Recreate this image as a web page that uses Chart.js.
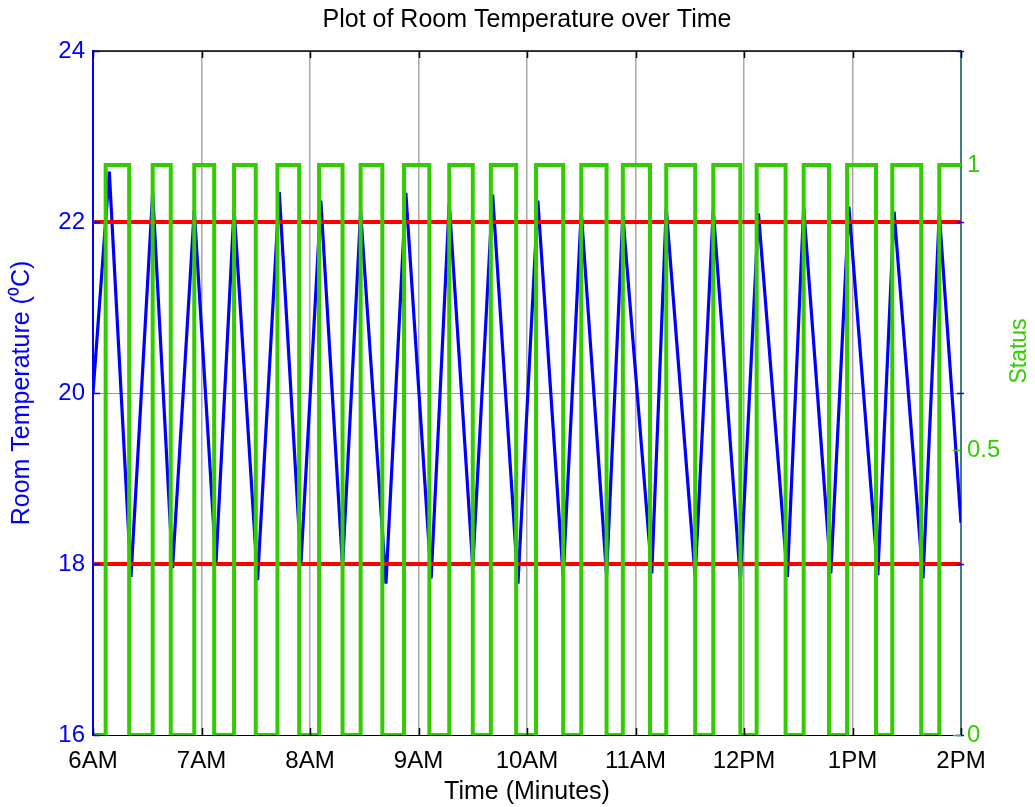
<!DOCTYPE html>
<html>
<head>
<meta charset="utf-8">
<title>Room Temperature</title>
<script src="https://cdn.jsdelivr.net/npm/chart.js@4.4.1/dist/chart.umd.min.js"></script>
<style>
  html, body { margin: 0; padding: 0; background: #fff; }
</style>
</head>
<body>
<canvas id="tempChart" width="1035" height="807"></canvas>
<script>
const hourLabels = ['6AM', '7AM', '8AM', '9AM', '10AM', '11AM', '12PM', '1PM', '2PM'];
const hourTicks = [0, 60, 120, 180, 240, 300, 360, 420, 480];
const tempTicks = [16, 18, 20, 22, 24];
const statusTicks = [0, 0.5, 1];
const setpoints = [18, 22];

// turning points of the room temperature (minutes after 6AM)
const tempMinutes = [0, 9, 21, 33, 44, 56, 68, 78, 91, 103, 115, 126, 138, 148, 162, 173, 187, 197, 210, 221,
    235, 246, 260, 270, 284, 293, 309, 317, 333, 343, 358, 368, 384, 393, 408, 418, 434, 443, 459, 468, 480];
const tempValues = [20.0, 22.59, 17.85, 22.34, 17.95, 22.14, 18.0, 22.16, 17.81, 22.35, 18.01, 22.25, 17.97, 22.12,
    17.77, 22.34, 17.83, 22.22, 17.97, 22.32, 17.77, 22.25, 17.85, 22.12, 17.87, 22.08, 17.89, 22.16, 17.85, 22.14,
    17.81, 22.10, 17.85, 22.16, 17.89, 22.18, 17.87, 22.12, 17.83, 22.10, 18.48];

// switching times of the status signal
const statusMinutes = [0, 7, 20, 33, 43, 56, 67, 78, 90, 102, 114, 125, 138, 148, 160, 172, 186, 197, 210, 220,
    234, 245, 260, 270, 284, 293, 308, 317, 333, 343, 358, 367, 383, 393, 407, 417, 433, 442, 458, 468, 480];
const statusValues = [0, 1, 0, 1, 0, 1, 0, 1, 0, 1, 0, 1, 0, 1, 0, 1, 0, 1, 0, 1, 0,
    1, 0, 1, 0, 1, 0, 1, 0, 1, 0, 1, 0, 1, 0, 1, 0, 1, 0, 1, 1];

const BLUE = '#0000ff';
const GREEN = '#33cc00';

Chart.defaults.font.family = "'Liberation Sans', Arial, sans-serif";

// inward tick marks, top frame line and the right axis label
const framePlugin = {
    id: 'frame',
    afterDatasetsDraw(chart) {
        const ctx = chart.ctx;
        const area = chart.chartArea;
        const x = chart.scales.x, y = chart.scales.y, y1 = chart.scales.y1;
        ctx.save();
        ctx.lineWidth = 1.5;

        ctx.strokeStyle = '#000';
        ctx.beginPath();
        ctx.moveTo(area.left, area.top);
        ctx.lineTo(area.right, area.top);
        hourTicks.forEach(v => {
            const px = Math.round(x.getPixelForValue(v)) + 0.5;
            ctx.moveTo(px, area.bottom);
            ctx.lineTo(px, area.bottom - 7);
            ctx.moveTo(px, area.top);
            ctx.lineTo(px, area.top + 7);
        });
        ctx.stroke();

        ctx.strokeStyle = BLUE;
        ctx.beginPath();
        tempTicks.forEach(v => {
            const py = Math.round(y.getPixelForValue(v)) + 0.5;
            ctx.moveTo(area.left, py);
            ctx.lineTo(area.left + 7, py);
            ctx.moveTo(area.right + 3, py);
            ctx.lineTo(area.right - 4, py);
        });
        ctx.stroke();

        ctx.strokeStyle = GREEN;
        ctx.beginPath();
        statusTicks.forEach(v => {
            const py = Math.round(y1.getPixelForValue(v)) + 0.5;
            ctx.moveTo(area.right, py);
            ctx.lineTo(area.right - 8, py);
        });
        ctx.stroke();

        ctx.translate(1020, 351);
        ctx.rotate(-Math.PI / 2);
        ctx.fillStyle = GREEN;
        ctx.font = "23px 'Liberation Sans', Arial, sans-serif";
        ctx.textAlign = 'center';
        ctx.textBaseline = 'middle';
        ctx.fillText('Status', 0, 0);
        ctx.restore();
    }
};

const tempPoints = tempMinutes.map((m, i) => ({ x: m, y: tempValues[i] }));
const statusPoints = statusMinutes.map((m, i) => ({ x: m, y: statusValues[i] }));

const datasets = [{
    label: 'Status',
    data: statusPoints,
    yAxisID: 'y1',
    stepped: 'before',
    borderColor: GREEN,
    borderWidth: 4,
    order: 0
}];
setpoints.forEach(v => {
    datasets.push({
        label: 'Setpoint ' + v,
        data: [{ x: 0, y: v }, { x: 480, y: v }],
        yAxisID: 'y',
        borderColor: '#ff0000',
        borderWidth: 4,
        order: 1
    });
});
datasets.push({
    label: 'Room Temperature',
    data: tempPoints,
    yAxisID: 'y',
    borderColor: BLUE,
    borderWidth: 3.2,
    order: 2
});

new Chart(document.getElementById('tempChart'), {
    type: 'line',
    data: { datasets: datasets },
    options: {
        responsive: false,
        animation: false,
        layout: { padding: 0 },
        elements: {
            point: { radius: 0 },
            line: { tension: 0, borderJoinStyle: 'miter' }
        },
        plugins: {
            legend: { display: false },
            tooltip: { enabled: false },
            title: {
                display: true,
                fullSize: false,
                text: 'Plot of Room Temperature over Time',
                color: '#000',
                font: { size: 25, weight: 'normal' },
                padding: { top: 5, bottom: 16 }
            }
        },
        scales: {
            x: {
                type: 'linear',
                min: 0,
                max: 480,
                afterBuildTicks: s => { s.ticks = hourTicks.map(v => ({ value: v })); },
                afterFit: s => { s.height = 72; },
                ticks: {
                    callback: (v, i) => hourLabels[i],
                    color: '#000',
                    font: { size: 24 },
                    padding: 12,
                    maxRotation: 0,
                    autoSkip: false
                },
                grid: { color: '#a8a8a8', lineWidth: 1.5, drawTicks: false },
                border: { color: '#000', width: 1 },
                title: {
                    display: true,
                    text: 'Time (Minutes)',
                    color: '#000',
                    font: { size: 25 },
                    padding: { top: 0, bottom: 0 }
                }
            },
            y: {
                position: 'left',
                min: 16,
                max: 24,
                afterBuildTicks: s => { s.ticks = tempTicks.map(v => ({ value: v })); },
                afterFit: s => { s.width = 93; },
                ticks: { color: BLUE, font: { size: 24 }, padding: 8 },
                grid: { color: 'rgba(120,120,255,0.85)', lineWidth: 1, drawTicks: false },
                border: { color: BLUE, width: 2 },
                title: {
                    display: true,
                    text: 'Room Temperature (⁰C)',
                    color: BLUE,
                    font: { size: 25 },
                    padding: { top: 7, bottom: 0 }
                }
            },
            y1: {
                position: 'right',
                min: 0,
                max: 1.2,
                afterBuildTicks: s => { s.ticks = statusTicks.map(v => ({ value: v })); },
                afterFit: s => { s.width = 74; },
                ticks: { color: GREEN, font: { size: 24 }, padding: 6, callback: v => String(v) },
                grid: { display: false, drawTicks: false },
                border: { color: '#3d8080', width: 2 }
            }
        }
    },
    plugins: [framePlugin]
});
</script>
</body>
</html>
